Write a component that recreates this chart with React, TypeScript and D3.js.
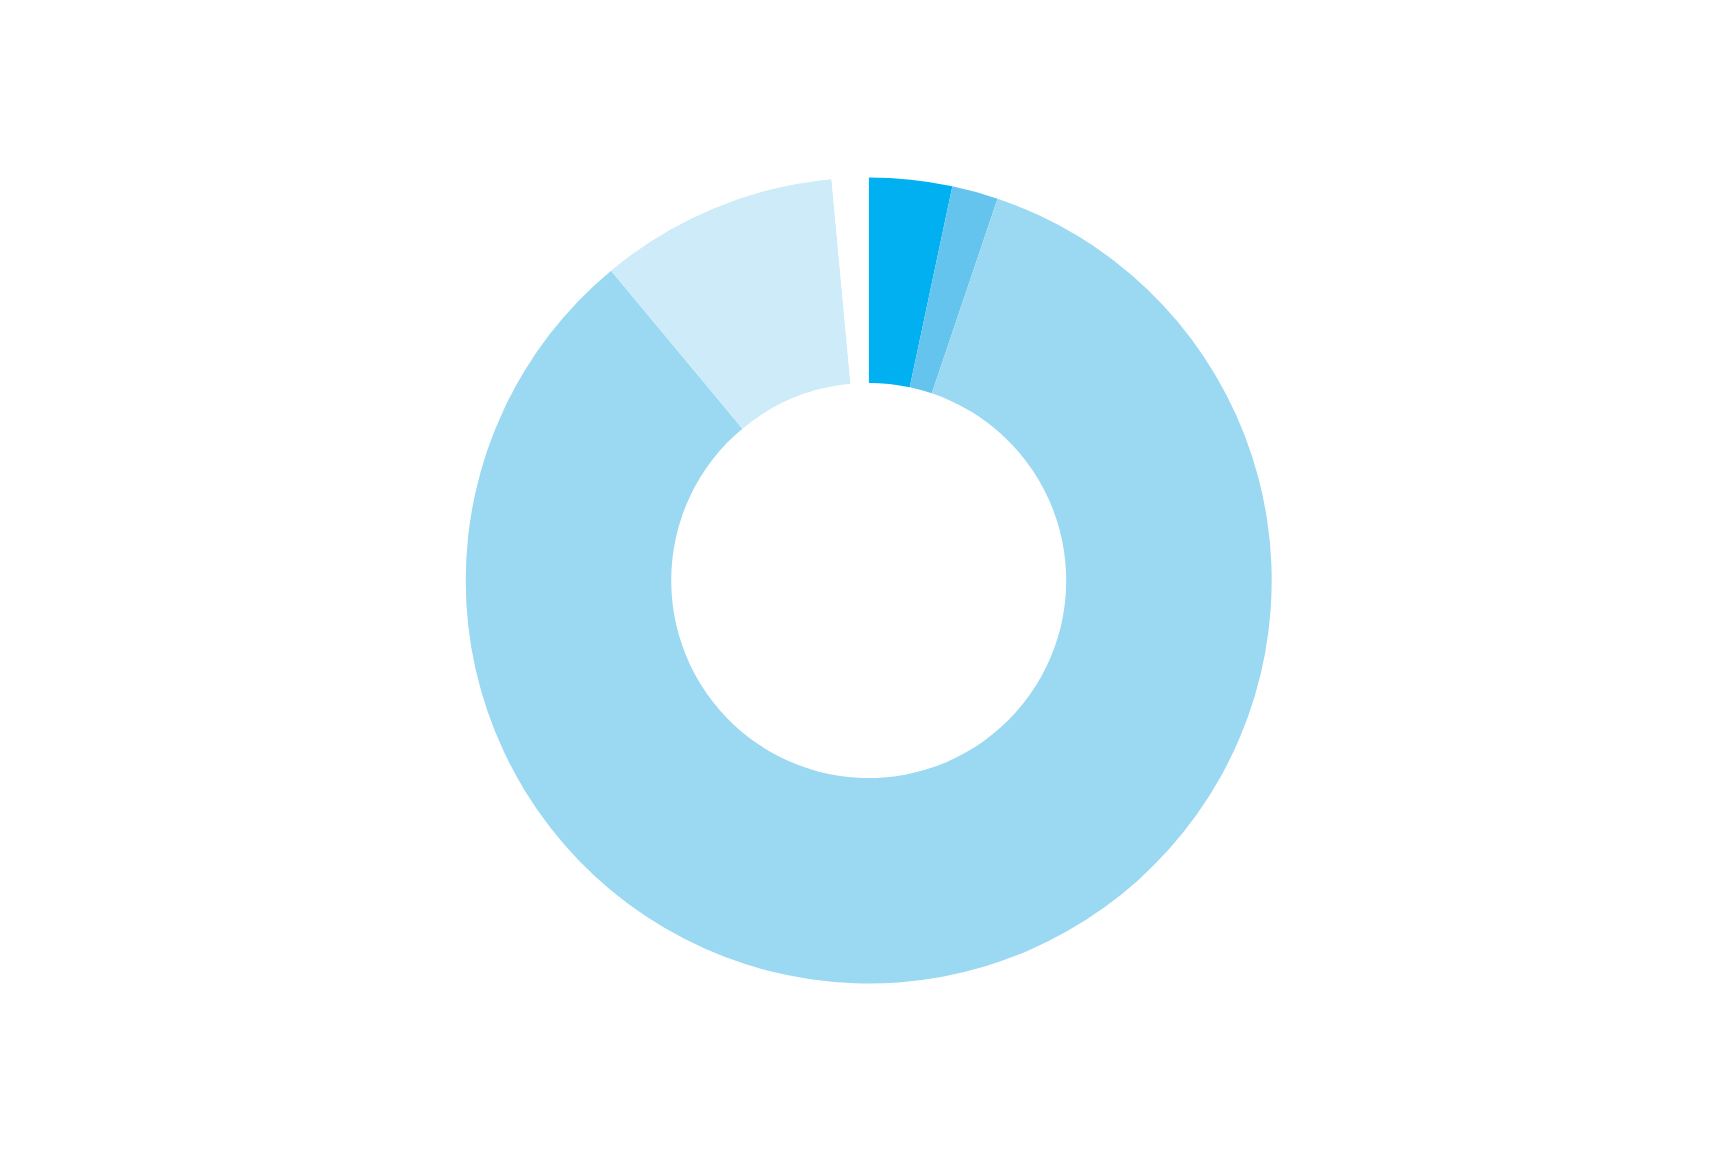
import React from "react";
import * as d3 from "d3";

const categories = ["A", "B", "C", "D", "E"];
const values = [3.33, 1.85, 83.78, 9.57, 1.47];
const colors = ["#00B0F0", "#64C4EE", "#9BD9F3", "#CDEBF8", "#FFFFFF"];

const W = 1713;
const H = 1151;
const CX = 868.7;
const CY = 580.5;
const R_OUT = 403;
const R_IN = 197.5;

export default function App() {
  const pie = d3
    .pie<number>()
    .sort(null)
    .value((d) => d)
    .startAngle(0)
    .endAngle(2 * Math.PI);
  const arcs = pie(values);
  const arcGen = d3.arc<d3.PieArcDatum<number>>().innerRadius(R_IN).outerRadius(R_OUT);

  return (
    <div style={{ position: "absolute", left: 0, top: 0 }}>
      <svg width={W} height={H} style={{ display: "block", background: "#fff" }}>
        <g transform={`translate(${CX},${CY})`}>
          {arcs.map((a, i) => (
            <path key={categories[i]} d={arcGen(a) || ""} fill={colors[i]} />
          ))}
        </g>
      </svg>
    </div>
  );
}
